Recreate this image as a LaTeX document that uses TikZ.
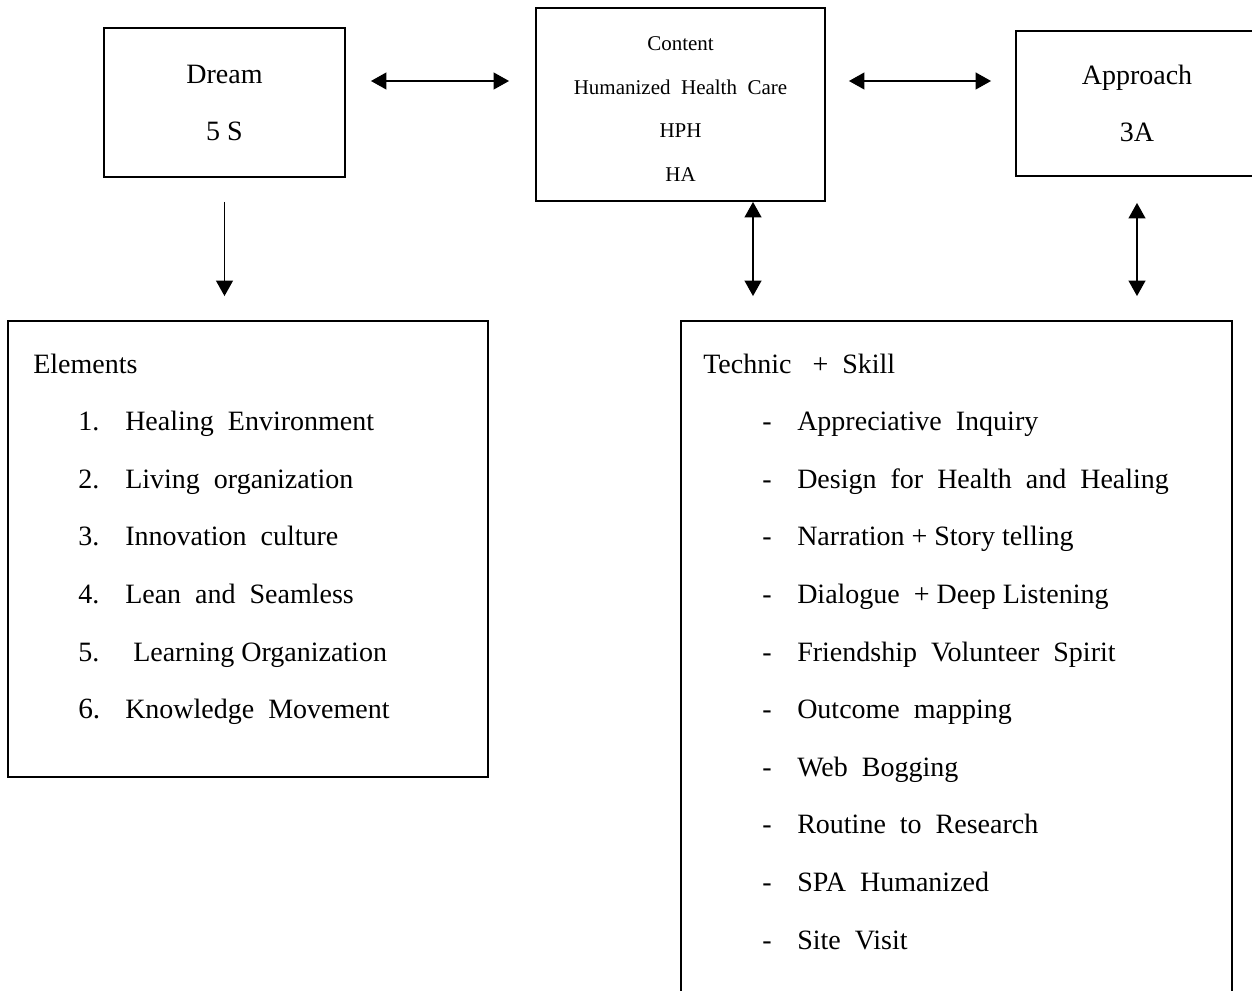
\documentclass[tikz,border=0pt]{standalone}
\usepackage{fontspec}
\setmainfont{Liberation Serif}
\usetikzlibrary{arrows.meta}
\tikzset{
  box/.style={draw, line width=1.4pt, rectangle, inner sep=0pt, align=center},
  big/.style={font=\fontsize{21pt}{42.75pt}\selectfont},
  small/.style={font=\fontsize{15.75pt}{32.6pt}\selectfont, align=center, inner sep=0pt},
  item/.style={anchor=base west, inner sep=0pt, font=\fontsize{21pt}{25pt}\selectfont},
  arr/.style={line width=1.3pt, {Triangle[length=11.5pt,width=12.5pt]}-{Triangle[length=11.5pt,width=12.5pt]}},
  darr/.style={line width=1.3pt, -{Triangle[length=11.5pt,width=12.5pt]}}
}
\begin{document}
\begin{tikzpicture}[x=0.75pt,y=-0.75pt]
\useasboundingbox (0,0) rectangle (1252,991);
\clip (0,0) rectangle (1252,991);
% boxes
\node[box, big, minimum width=180.75pt, minimum height=111.75pt] (dream) at (224.5,102.5) {Dream\\5 S};
\node[box, minimum width=216.75pt, minimum height=144.75pt] (content) at (680.5,104.5) {};
\node[small] (ctext) at (680.5,109) {Content\\Humanized~~Health~~Care\\HPH\\HA};
\node[box, big, minimum width=181.5pt, minimum height=108.75pt] (approach) at (1137,103.5) {Approach\\3A};
\node[box, minimum width=360pt, minimum height=342pt] (elements) at (248,549) {};
\node[box, minimum width=413.25pt, minimum height=584.25pt] (technic) at (956.5,710.5) {};
% helper coordinates
\coordinate (hy) at (0,81);
\coordinate (cx) at (753,0);
% arrows
\draw[arr, shorten <=18.75pt, shorten >=19.5pt] (dream.east |- hy) -- (content.west |- hy);
\draw[arr, shorten <=17.25pt, shorten >=18pt] (content.east |- hy) -- (approach.west |- hy);
\draw[darr, shorten <=18pt, shorten >=18pt] (dream.south) -- (dream.south |- elements.north);
\draw[arr, shorten >=18pt] (content.south -| cx) -- (technic.north -| cx);
\draw[arr, shorten <=19.5pt, shorten >=18pt] (approach.south) -- (approach.south |- technic.north);
% left list
\node[item] (elh) at (33,373) {Elements};
\node[item] (n1) at (78,430.6) {1.};
\node[item] (t1) at (125,430.6) {Healing~~Environment};
\node[item] (n2) at (78,488.2) {2.};
\node[item] (t2) at (125,488.2) {Living~~organization};
\node[item] (n3) at (78,545.8) {3.};
\node[item] (t3) at (125,545.8) {Innovation~~culture};
\node[item] (n4) at (78,603.4) {4.};
\node[item] (t4) at (125,603.4) {Lean~~and~~Seamless};
\node[item] (n5) at (78,661) {5.};
\node[item] (t5) at (133,661) {Learning Organization};
\node[item, font=\fontsize{22pt}{25pt}\selectfont] (n6) at (78,718.6) {6.};
\node[item] (t6) at (125,718.6) {Knowledge~~Movement};
% right list
\node[item] (trh) at (703,373) {Technic~~~+~~Skill};
\foreach \i/\t in {1/Appreciative~~Inquiry, 2/Design~~for~~Health~~and~~Healing, 3/Narration + Story telling, 4/Dialogue~~+ Deep Listening, 5/Friendship~~Volunteer~~Spirit, 6/Outcome~~mapping, 7/Web~~Bogging, 8/Routine~~to~~Research, 9/SPA~~Humanized, 10/Site~~Visit}{
  \node[item] (d\i) at (762,373+57.6*\i) {-};
  \node[item] (r\i) at (797,373+57.6*\i) {\t};
}
\end{tikzpicture}
\end{document}
